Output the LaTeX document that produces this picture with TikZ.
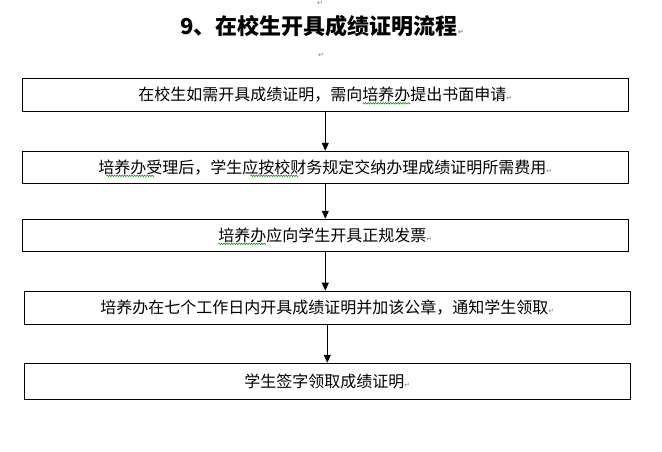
\documentclass[tikz,border=0pt]{standalone}
\usepackage{fontspec}
\usetikzlibrary{arrows.meta,decorations.pathmorphing}
\setmainfont{Noto Sans CJK SC}
\newfontfamily\dejavu{DejaVu Sans}
\newcommand\retmark{{\dejavu\fontsize{7}{7}\selectfont\color{gray}↵}}

\begin{document}
\begin{tikzpicture}[x=1pt,y=-1pt,
	box/.style={draw, line width=1.1pt, minimum width=606pt, inner sep=0pt, font=\fontsize{16}{16}\selectfont},
	flow/.style={-{Triangle[width=7pt,length=8pt]}, line width=0.9pt},
	wave/.style={draw=green!55!black, line width=0.5pt, decorate, decoration={snake, amplitude=0.8pt, segment length=2.5pt}}]
	\useasboundingbox (0,0) rectangle (662,451);
	\node[font=\fontsize{22}{22}\selectfont\bfseries] (title) at (322,26) {9、在校生开具成绩证明流程\retmark};
	\node[inner sep=0pt] (m0) at (320,3) {\retmark};
	\node[inner sep=0pt] (m1) at (321,55) {\retmark};
	\foreach \n/\x/\y/\h/\t in {
		1/325.3/94.8/33/{在校生如需开具成绩证明，需向培养办提出书面申请},
		2/325.3/167.3/32/{培养办受理后，学生应按校财务规定交纳办理成绩证明所需费用},
		3/325.3/235.3/32/{培养办应向学生开具正规发票},
		4/327.3/307.7/33/{培养办在七个工作日内开具成绩证明并加该公章，通知学生领取},
		5/327.3/381.3/36/{学生签字领取成绩证明}} {
		\node[box, minimum height=\h pt] (b\n) at (\x,\y) {\t\retmark};
	}
	\foreach \a/\b in {1/2,2/3,3/4,4/5}
		\draw[flow] (b\a.south) -- (b\a.south |- b\b.north);
	% spelling marks
	\foreach \xa/\xb/\y in {362.4/410.4/103.3, 106.4/154.4/175.8, 250.4/298.4/175.8, 218.4/266.4/243.8}
		\path[wave] (\xa,\y) -- (\xb,\y);
\end{tikzpicture}
\end{document}
